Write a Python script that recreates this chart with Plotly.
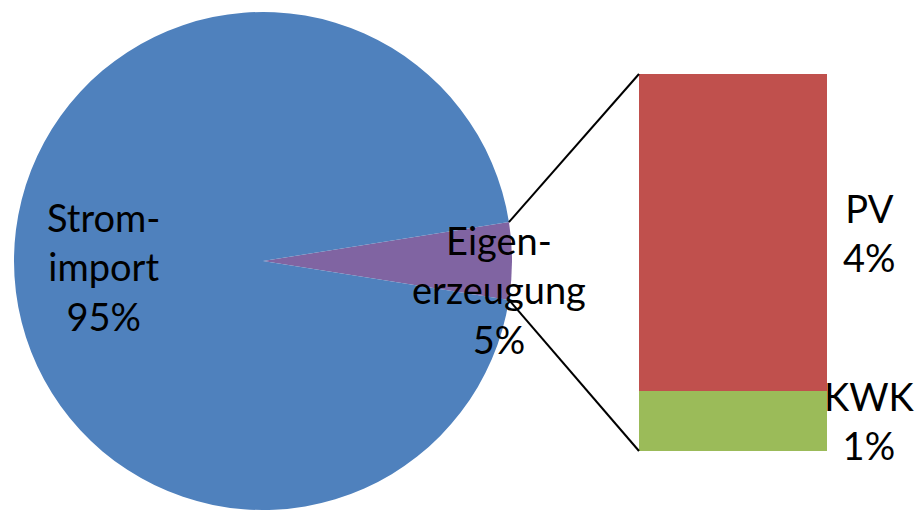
import math
import plotly.graph_objects as go

# ---- data ----
pie_labels = ["Eigen-<br>erzeugung", "Strom-<br>import"]
pie_values = [5, 95]
pie_pct_text = ["5%", "95%"]
pie_colors = ["#8064A2", "#4F81BD"]

bar_labels = ["KWK", "PV"]
bar_values = [0.8, 4.2]
bar_pct_text = ["1%", "4%"]
bar_colors = ["#9BBB59", "#C0504D"]

# ---- layout geometry (pixels) ----
W, H = 916, 510
MT, MB = 12, 0
PH = H - MT - MB          # plot-area height
CX = 263                  # pie centre x (px)
R = PH / 2                # pie radius (px)
CY = MT + R               # pie centre y (px, from top)

BAR_X0, BAR_X1 = 639, 827
BAR_TOP, BAR_BOT = 74, 451

def px2paper_x(px):
    return px / W

def px2paper_y(py):
    return (H - MB - py) / PH

fig = go.Figure()

# rotation so that the first slice is centred at 3 o'clock
share = pie_values[0] / sum(pie_values)
rotation = 90 - share * 360 / 2

fig.add_trace(go.Pie(
    labels=[l.replace("<br>", "") for l in pie_labels],
    values=pie_values,
    sort=False,
    direction="clockwise",
    rotation=rotation,
    marker=dict(colors=pie_colors, line=dict(width=0)),
    textinfo="none",
    hoverinfo="label+percent",
    showlegend=False,
    domain=dict(x=[px2paper_x(CX - R), px2paper_x(CX + R)], y=[0, 1]),
))

for lab, val, col in zip(bar_labels, bar_values, bar_colors):
    fig.add_trace(go.Bar(
        x=[0], y=[val], name=lab, width=1,
        marker=dict(color=col, line=dict(width=0)),
        showlegend=False, xaxis="x", yaxis="y",
    ))

total_bar = sum(bar_values)
FONT = dict(family="Lato, 'Open Sans', sans-serif", size=38, color="#000000")

annotations = []
# bar segment labels (right of bar, centred on segment)
cum = 0
for lab, val, pct in zip(bar_labels, bar_values, bar_pct_text):
    annotations.append(dict(
        x=0.5, y=cum + val / 2, xref="x", yref="y",
        text=f"{lab}<br>{pct}", showarrow=False, font=FONT,
        xanchor="center", yanchor="middle", xshift=42,
    ))
    cum += val

# pie labels
pie_label_offsets = {0: (236, 28), 1: (-160, 5)}
for i, (lab, pct) in enumerate(zip(pie_labels, pie_pct_text)):
    dx, dy = pie_label_offsets[i]
    annotations.append(dict(
        x=px2paper_x(CX + dx), y=px2paper_y(CY + dy),
        xref="paper", yref="paper",
        text=f"{lab}<br>{pct}", showarrow=False, font=FONT,
        xanchor="center", yanchor="middle",
    ))

# connector lines from slice edges to bar corners
a1 = math.radians(rotation)
a2 = math.radians(rotation + share * 360)
p1 = (CX + R * math.sin(a1), CY - R * math.cos(a1))
p2 = (CX + R * math.sin(a2), CY - R * math.cos(a2))
shapes = []
for (sx, sy), (ex, ey) in [(p1, (BAR_X0, BAR_TOP)), (p2, (BAR_X0, BAR_BOT))]:
    shapes.append(dict(
        type="line", xref="paper", yref="paper",
        x0=px2paper_x(sx), y0=px2paper_y(sy),
        x1=px2paper_x(ex), y1=px2paper_y(ey),
        line=dict(color="#000000", width=2),
    ))

fig.update_layout(
    width=W, height=H,
    margin=dict(l=0, r=0, t=MT, b=MB),
    paper_bgcolor="white", plot_bgcolor="white",
    barmode="stack", bargap=0,
    xaxis=dict(domain=[px2paper_x(BAR_X0), px2paper_x(BAR_X1)],
               range=[-0.5, 0.5], visible=False, fixedrange=True),
    yaxis=dict(domain=[px2paper_y(BAR_BOT), px2paper_y(BAR_TOP)],
               range=[0, total_bar], visible=False, fixedrange=True),
    annotations=annotations,
    shapes=shapes,
)

fig.write_html("out.html")
